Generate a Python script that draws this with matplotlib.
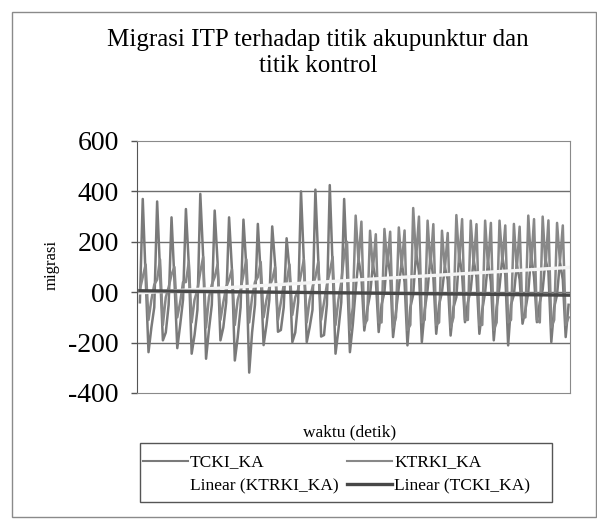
import numpy as np
import matplotlib
matplotlib.use("Agg")
import matplotlib.pyplot as plt
from matplotlib.lines import Line2D
from matplotlib.patches import Rectangle

plt.rcParams["font.family"] = ["Liberation Serif", "DejaVu Serif"]

# TCKI_KA, one cycle = base, peak, shoulder, trough, mid
t_base = [-40, -60, -50, -30, -70, -50, -40, -60, -50, -30, -60, -40, -70, -50, -40,
          10, -10, 0, 20, -10, 10, 0, -20, 10, 0, 20, -10, 0, 10, -10]
t_peak = [370, 360, 297, 330, 390, 324, 297, 288, 271, 261, 214, 400, 407, 425, 370,
          130, 110, 150, 120, 160, 140, 100, 150, 130, 120, 140, 110, 150, 130, 120]
t_shoulder = [60, 80, 50, 110, 140, 120, 90, 100, 70, 110, 90, 120, 130, 100, 80,
              60, 50, 70, 40, 80, 60, 50, 70, 60, 40, 70, 50, 60, 80, 50]
t_trough = [-238, -191, -222, -244, -264, -191, -271, -319, -210, -157, -198, -198, -176, -244, -238,
            -152, -158, -178, -211, -198, -165, -172, -119, -165, -191, -211, -125, -119, -198, -178]
t_mid = [-140, -160, -130, -170, -150, -140, -180, -160, -130, -150, -160, -140, -170, -150, -130,
         -70, -50, -80, -60, -70, -50, -60, -40, -70, -60, -50, -70, -40, -60, -50]

# KTRKI_KA, one cycle = rise, dip, high, trough, base
k_rise = [10, 30, 20, 40, 10, 30, 20, 10, 40, 20, 30, 10, 20, 30, 40,
          304, 244, 251, 257, 334, 284, 244, 306, 284, 284, 284, 271, 304, 300, 275]
k_dip = [60, 50, 70, 40, 80, 60, 50, 70, 60, 50, 40, 70, 60, 80, 150,
         120, 90, 110, 100, 130, 100, 90, 120, 110, 100, 120, 90, 110, 100, 120]
k_high = [110, 130, 100, 120, 140, 110, 90, 130, 120, 100, 110, 130, 120, 140, 200,
          280, 230, 240, 245, 300, 270, 235, 290, 270, 275, 265, 260, 290, 285, 265]
k_trough = [-110, -130, -100, -120, -140, -110, -130, -120, -100, -110, -90, -120, -110, -130, -150,
            -130, -120, -140, -150, -120, -130, -140, -110, -130, -150, -120, -100, -110, -140, -130]
k_base = [-30, -20, -40, -30, -20, -40, -30, -20, -30, -40, -20, -30, -40, -30, -60,
          -110, -120, -100, -130, -110, -120, -100, -110, -130, -120, -110, -100, -120, -110, -100]

yticks = [-400, -200, 0, 200, 400, 600]
ytick_labels = ["-400", "-200", "00", "200", "400", "600"]

tcki = np.column_stack([t_base, t_peak, t_shoulder, t_trough, t_mid]).ravel()
ktrki = np.column_stack([k_rise, k_dip, k_high, k_trough, k_base]).ravel()
x = np.arange(len(tcki))

fig = plt.figure(figsize=(5.97, 5.19), dpi=100)
fig.patches.append(Rectangle((12 / 597, 2 / 519), 584 / 597, 505 / 519, transform=fig.transFigure,
                             fill=False, edgecolor="#8a8a8a", linewidth=1))

ax = fig.add_axes([137 / 597, 1 - 393 / 519, 433 / 597, 252 / 519])
for yv in [-200, 0, 200, 400]:
    ax.axhline(yv, color="#6e6e6e", linewidth=1, zorder=0)

ax.plot(x, tcki, color="#7a7a7a", linewidth=1.8)
ax.plot(x, ktrki, color="#888888", linewidth=1.8)

# linear trendlines like excel
kf = np.polyfit(x, ktrki, 1)
tf = np.polyfit(x, tcki, 1)
ax.plot(x, np.polyval(kf, x), color="#f4f4f4", linewidth=2.4)
ax.plot(x, np.polyval(tf, x), color="#474747", linewidth=2.4)

ax.set_xlim(-1, 149.5)
ax.set_ylim(-400, 600)
ax.set_yticks(yticks)
ax.set_yticklabels(ytick_labels, fontsize=20)
ax.set_xticks([])
ax.tick_params(axis="y", length=4, width=1, pad=9, color="#555555")
for side in ["top", "right", "bottom"]:
    ax.spines[side].set_color("#8a8a8a")
ax.spines["left"].set_color("#555555")

fig.text(318 / 597, 1 - 29 / 519, "Migrasi ITP terhadap titik akupunktur dan\ntitik kontrol",
         ha="center", va="top", fontsize=18, linespacing=1.25)
fig.text(52 / 597, 1 - 265 / 519, "migrasi", rotation=90, ha="center", va="center", fontsize=12)
fig.text(350 / 597, 1 - 432 / 519, "waktu (detik)", ha="center", va="center", fontsize=12.5)

# legend frame drawn by hand so it spans the same width as the original
fig.patches.append(Rectangle((140 / 597, 1 - 502 / 519), 412 / 597, 59 / 519,
                             transform=fig.transFigure, fill=False,
                             edgecolor="#555555", linewidth=1))
handles = [Line2D([], [], color="#7a7a7a", linewidth=1.5),
           Line2D([], [], color="#ffffff", linewidth=2.2),
           Line2D([], [], color="#888888", linewidth=1.5),
           Line2D([], [], color="#474747", linewidth=2.4)]
labels = ["TCKI_KA", "Linear (KTRKI_KA)", "KTRKI_KA", "Linear (TCKI_KA)"]
fig.legend(handles, labels, ncol=2, loc="center left",
           bbox_to_anchor=(143 / 597, 1 - 474.5 / 519),
           borderaxespad=0, borderpad=0, fontsize=12.5, handlelength=2.6,
           handletextpad=0.1, frameon=False, columnspacing=0.5, labelspacing=0.45)

fig.savefig("out.png", dpi=100)
